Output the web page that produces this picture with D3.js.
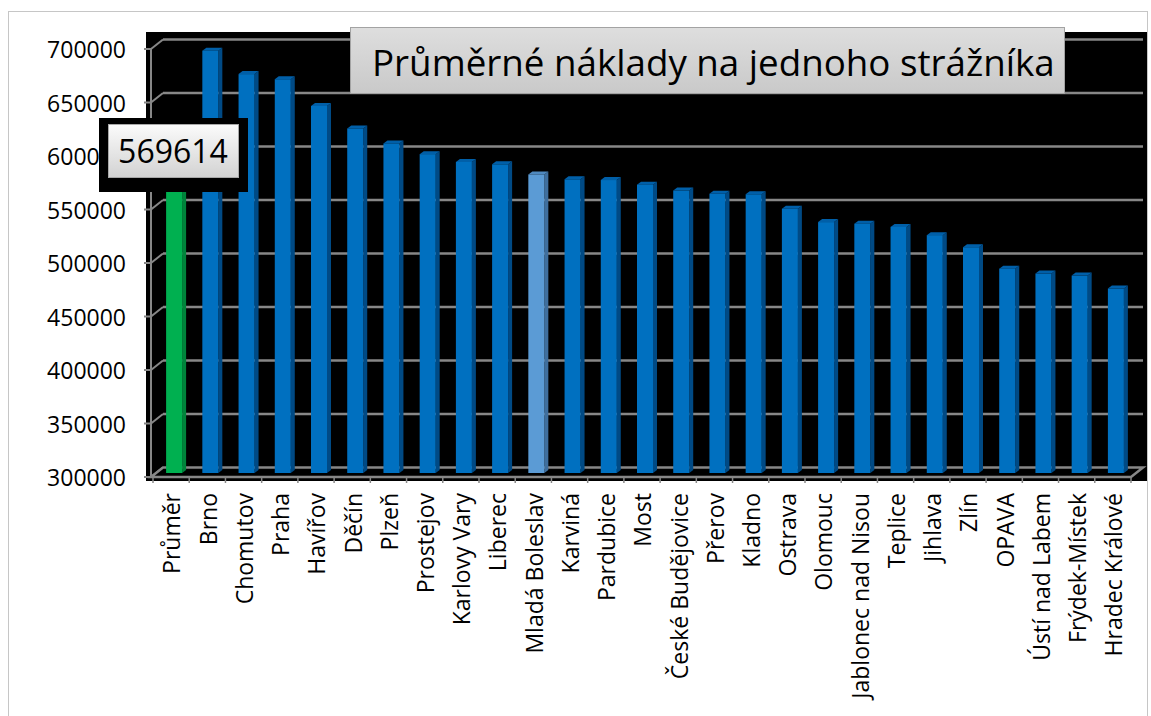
<!DOCTYPE html>
<html>
<head>
<meta charset="utf-8">
<script src="https://cdn.jsdelivr.net/npm/d3@7"></script>
<style>
  body { margin: 0; background: #fff; }
  text { font-family: "Open Sans", "Noto Sans", sans-serif; }
</style>
</head>
<body>
<div id="chart"></div>
<script>
const width = 1151;
const height = 716;

// data
const categories = ["Průměr", "Brno", "Chomutov", "Praha", "Havířov", "Děčín", "Plzeň", "Prostejov",
  "Karlovy Vary", "Liberec", "Mladá Boleslav", "Karviná", "Pardubice", "Most", "České Budějovice",
  "Přerov", "Kladno", "Ostrava", "Olomouc", "Jablonec nad Nisou", "Teplice", "Jihlava", "Zlín",
  "OPAVA", "Ústí nad Labem", "Frýdek-Místek", "Hradec Králové"];
const values = [569614, 694700, 672800, 668000, 643000, 622000, 608000, 598000,
  590700, 588500, 579000, 574500, 573800, 569500, 564000,
  561000, 560500, 547000, 534500, 533000, 530000, 522300, 511000,
  491000, 486400, 484500, 472400];
const yTicks = [300000, 350000, 400000, 450000, 500000, 550000, 600000, 650000, 700000];
const title = "Průměrné náklady na jednoho strážníka";
const averageLabel = "569614";

const svg = d3.select("#chart")
  .append("svg")
  .attr("width", width)
  .attr("height", height);

// outer border
svg.append("rect")
  .attr("x", 8.5).attr("y", 11.5)
  .attr("width", 1139).attr("height", 720)
  .attr("fill", "#fff")
  .attr("stroke", "#c6c6c6");

// plot area
svg.append("rect")
  .attr("x", 146).attr("y", 32)
  .attr("width", 1001).attr("height", 449)
  .attr("fill", "#000");

// scales
const x = d3.scaleBand().domain(categories).range([153, 1131]);
const y = d3.scaleLinear().domain([300000, 700000]).range([477, 49]);
const depth = { dx: 12, dy: -9.5 };
const gridColor = "#878787";

// back wall gridlines with left wall diagonals
const grid = svg.append("g");
yTicks.forEach(t => {
  const yy = y(t);
  if (t > 300000) {
    grid.append("line")
      .attr("x1", 151 + depth.dx).attr("x2", 1143)
      .attr("y1", yy + depth.dy).attr("y2", yy + depth.dy)
      .attr("stroke", gridColor).attr("stroke-width", 2.5);
  }
  grid.append("line")
    .attr("x1", 151).attr("y1", yy)
    .attr("x2", 151 + depth.dx).attr("y2", yy + depth.dy)
    .attr("stroke", gridColor).attr("stroke-width", 2);
  grid.append("line")
    .attr("x1", 144).attr("x2", 151)
    .attr("y1", yy).attr("y2", yy)
    .attr("stroke", gridColor).attr("stroke-width", 2);
});

// front y axis line
grid.append("line")
  .attr("x1", 151).attr("x2", 151)
  .attr("y1", y(700000)).attr("y2", y(300000))
  .attr("stroke", gridColor).attr("stroke-width", 2);

// floor
const fy = y(300000);
const floorPts = [[151, fy], [1131, fy], [1131 + depth.dx, fy + depth.dy], [151 + depth.dx, fy + depth.dy]];
grid.append("polygon")
  .attr("points", floorPts.map(p => p.join(",")).join(" "))
  .attr("fill", "#000")
  .attr("stroke", gridColor).attr("stroke-width", 2.5);

// x ticks
const boundaries = categories.map(c => x(c)).concat([x.range()[1]]);
boundaries.forEach(bx => {
  grid.append("line")
    .attr("x1", bx).attr("x2", bx)
    .attr("y1", fy).attr("y2", fy + 6)
    .attr("stroke", gridColor).attr("stroke-width", 1.5);
});

// bars (3D look)
const barW = 16, sideX = 4, sideY = -3, barShift = 3, barLift = -4;
function barColors(i) {
  if (i === 0) return { front: "#00b050", side: "#00843b", top: "#00a048" };
  if (categories[i] === "Mladá Boleslav") return { front: "#5b9bd5", side: "#3f6f9e", top: "#4f89bf" };
  return { front: "#0070c0", side: "#004a85", top: "#005fa8" };
}

const bars = svg.append("g")
  .selectAll("g")
  .data(values.map((v, i) => ({ name: categories[i], value: v, i })))
  .join("g");

bars.each(function(d) {
  const g = d3.select(this);
  const c = barColors(d.i);
  const x0 = x(d.name) + x.bandwidth() / 2 - barW / 2 + barShift;
  const x1 = x0 + barW;
  const yb = y(300000) + barLift;
  const yt = y(d.value) + barLift;
  g.append("polygon")
    .attr("points", [[x1, yb], [x1 + sideX, yb + sideY], [x1 + sideX, yt + sideY], [x1, yt]].map(p => p.join(",")).join(" "))
    .attr("fill", c.side);
  g.append("polygon")
    .attr("points", [[x0, yt], [x0 + sideX, yt + sideY], [x1 + sideX, yt + sideY], [x1, yt]].map(p => p.join(",")).join(" "))
    .attr("fill", c.top);
  g.append("rect")
    .attr("x", x0).attr("y", yt)
    .attr("width", barW).attr("height", yb - yt)
    .attr("fill", c.front);
});

// y labels
svg.append("g")
  .selectAll("text")
  .data(yTicks)
  .join("text")
  .attr("x", 126)
  .attr("y", d => y(d) + 9)
  .attr("text-anchor", "end")
  .style("font-size", "23px")
  .attr("fill", "#000")
  .text(d => d);

// x labels
svg.append("g")
  .selectAll("text")
  .data(categories)
  .join("text")
  .attr("transform", d => `translate(${x(d) + x.bandwidth() / 2 + 1},493) rotate(-90)`)
  .attr("text-anchor", "end")
  .attr("dy", "0.36em")
  .style("font-size", "23px")
  .attr("fill", "#000")
  .text(d => d);

// gradients
const defs = svg.append("defs");
const g1 = defs.append("linearGradient").attr("id", "boxGrad").attr("x1", 0).attr("y1", 0).attr("x2", 0).attr("y2", 1);
g1.append("stop").attr("offset", "0%").attr("stop-color", "#dedede");
g1.append("stop").attr("offset", "100%").attr("stop-color", "#c9c9c9");
const g2 = defs.append("linearGradient").attr("id", "lblGrad").attr("x1", 0).attr("y1", 0).attr("x2", 0).attr("y2", 1);
g2.append("stop").attr("offset", "0%").attr("stop-color", "#fbfbfb");
g2.append("stop").attr("offset", "100%").attr("stop-color", "#d2d2d2");

// title box
svg.append("rect")
  .attr("x", 350.5).attr("y", 27.5)
  .attr("width", 714).attr("height", 66)
  .attr("fill", "url(#boxGrad)")
  .attr("stroke", "#a3a3a3");

const titleText = svg.append("text")
  .attr("x", 372).attr("y", 76)
  .style("font-size", "35px")
  .attr("fill", "#000")
  .text(title);
const tw = titleText.node().getComputedTextLength();
titleText.style("font-size", (35 * 683 / tw) + "px");

// average label (covers part of the 600000 tick label, as in the original)
svg.append("rect")
  .attr("x", 99).attr("y", 118)
  .attr("width", 149).attr("height", 74)
  .attr("fill", "#000");
svg.append("rect")
  .attr("x", 108.5).attr("y", 124.5)
  .attr("width", 130).attr("height", 53)
  .attr("fill", "url(#lblGrad)")
  .attr("stroke", "#a8a8a8");
svg.append("text")
  .attr("x", 173).attr("y", 163)
  .attr("text-anchor", "middle")
  .style("font-size", "32px")
  .attr("fill", "#000")
  .text(averageLabel);
</script>
</body>
</html>
